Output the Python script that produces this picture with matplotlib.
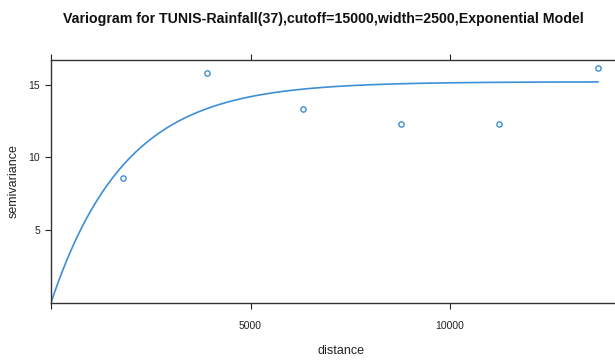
import numpy as np
import matplotlib
matplotlib.use('Agg')
from matplotlib import pyplot as plt

dist = [1805, 3910, 6316, 8772, 11228, 13709]
gamma = [8.56, 15.79, 13.30, 12.28, 12.28, 16.13]

# fitted exponential model
psill = 15.2
rng = 1853
nugget = 0.0

xticks = [0, 5000, 10000]
xticklabels = ['', '5000', '10000']
yticks = [5, 10, 15]

plt.rcParams['font.family'] = ['Liberation Sans', 'DejaVu Sans']

fig = plt.figure(figsize=(6.15, 3.6), dpi=100)
ax = fig.add_axes([51/615, (360-302.7)/360, 580/615, (302.7-60)/360])

h = np.linspace(0, max(dist), 300)
model = nugget + psill*(1 - np.exp(-h/rng))
col = '#3d8fd6'
ax.plot(h, model, color=col, lw=1.2)
ax.plot(dist, gamma, 'o', mfc='none', mec=col, ms=3.8, mew=1.0)

ax.set_xlim(0, 580/39.9*1000)
ax.set_ylim(0, 16.7)

ax.set_xticks(xticks)
ax.set_xticklabels(xticklabels)
ax.set_yticks(yticks)
ax.tick_params(axis='x', direction='out', length=4, width=0.8, top=True,
               labelsize=7.5, colors='#222222', pad=9)
ax.tick_params(axis='y', direction='out', length=4, width=0.8,
               labelsize=7.5, colors='#222222', pad=4)
for s in ax.spines.values():
    s.set_linewidth(1.0)
    s.set_color('#333333')
ax.spines['right'].set_visible(False)

ax.set_xlabel('distance', fontsize=9, color='#222222', labelpad=10)
ax.set_ylabel('semivariance', fontsize=9, color='#222222', labelpad=6)

fig.text(323/615, 1 - 19/360,
         'Variogram for TUNIS-Rainfall(37),cutoff=15000,width=2500,Exponential Model',
         ha='center', va='center', fontsize=10.2, fontweight='bold', color='#111111')

fig.savefig('out.png', dpi=100)
